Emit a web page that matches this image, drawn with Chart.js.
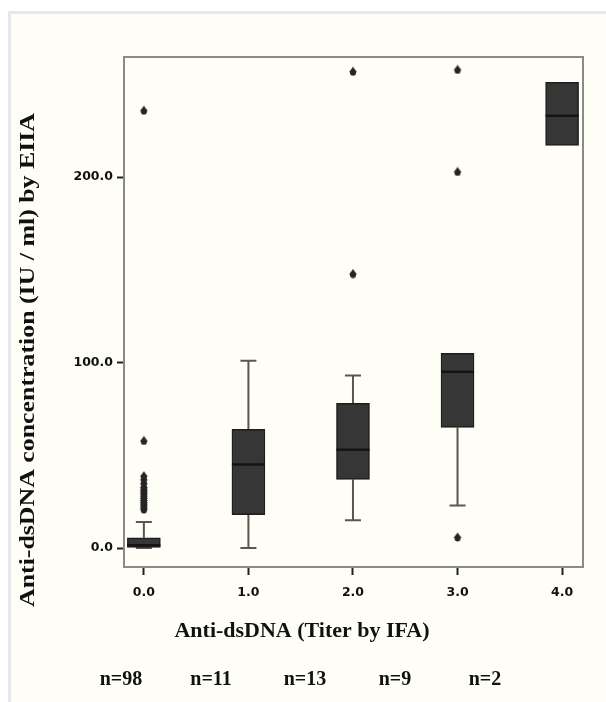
<!DOCTYPE html>
<html>
<head>
<meta charset="utf-8">
<script src="https://cdn.jsdelivr.net/npm/chart.js@4.4.1/dist/chart.umd.min.js"></script>
<style>
  body { margin: 0; background: #fff; }
  #wrap { width: 606px; height: 702px; position: relative; }
</style>
</head>
<body>
<div id="wrap"><canvas id="grafico"></canvas></div>
<script>
// categorias (titulo IFA) e valores
const categories = [0, 1, 2, 3, 4];
const yTickValues = [0, 100, 200];
const q1 = [0.3, 18, 37, 65, 217];
const median = [1.5, 45, 53, 95, 233];
const q3 = [5.5, 64, 78, 105, 251];
const whiskerLow = [0, 0, 15, 23, null];
const whiskerHigh = [14, 101, 93, null, null];
const outliers = [
    [21, 22, 23, 24, 25, 26, 27, 28, 29, 30, 31, 32, 33, 35, 37, 39, 58, 236],
    [],
    [148, 257],
    [6, 203, 258],
    []
];
const sampleSizes = ['n=98', 'n=11', 'n=13', 'n=9', 'n=2'];

const xTitle = 'Anti-dsDNA (Titer by IFA)';
const yTitle = 'Anti-dsDNA concentration (IU / ml) by EIIA';

// monta os dados para o chart
const boxData = categories.map((c, i) => ({ x: c, y: [q1[i], q3[i]] }));
const outlierData = [];
categories.forEach((c, i) => {
    outliers[i].forEach(v => outlierData.push({ x: c, y: v }));
});

// marcador dos outliers (forma de "espada" do SPSS)
function criarMarcador() {
    const cv = document.createElement('canvas');
    cv.width = 10; cv.height = 10;
    const g = cv.getContext('2d');
    g.fillStyle = '#262626';
    g.beginPath();
    g.moveTo(5, 0.5);
    g.lineTo(9, 6);
    g.lineTo(1, 6);
    g.closePath();
    g.fill();
    g.beginPath();
    g.arc(5, 6.5, 3, 0, Math.PI * 2);
    g.fill();
    return cv;
}
const marcador = criarMarcador();

// escreve um texto esticado ate a largura pedida
function textoLargura(ctx, txt, x, y, largura) {
    const w = ctx.measureText(txt).width;
    ctx.save();
    ctx.translate(x, y);
    ctx.scale(largura / w, 1);
    ctx.fillText(txt, 0, 0);
    ctx.restore();
}

const boxPlugin = {
    id: 'boxPlugin',
    beforeDraw(chart) {
        const ctx = chart.ctx;
        ctx.save();
        ctx.fillStyle = '#ffffff';
        ctx.fillRect(0, 0, chart.width, chart.height);
        ctx.fillStyle = '#e8e8ec';
        ctx.fillRect(8, 11, chart.width - 8, 3);
        ctx.fillRect(8, 11, 3, chart.height - 11);
        ctx.fillStyle = '#fefdf6';
        ctx.fillRect(11, 14, chart.width - 11, chart.height - 14);
        ctx.restore();
    },
    beforeDatasetsDraw(chart) {
        const ctx = chart.ctx;
        const xs = chart.scales.x, ys = chart.scales.y;
        const capHalf = 8;
        ctx.save();
        ctx.strokeStyle = '#5b5555';
        ctx.lineWidth = 2;
        categories.forEach((c, i) => {
            const px = xs.getPixelForValue(c);
            if (whiskerLow[i] !== null) {
                const a = ys.getPixelForValue(q1[i]);
                const b = ys.getPixelForValue(whiskerLow[i]);
                ctx.beginPath();
                ctx.moveTo(px, a); ctx.lineTo(px, b);
                ctx.moveTo(px - capHalf, b); ctx.lineTo(px + capHalf, b);
                ctx.stroke();
            }
            if (whiskerHigh[i] !== null) {
                const a = ys.getPixelForValue(q3[i]);
                const b = ys.getPixelForValue(whiskerHigh[i]);
                ctx.beginPath();
                ctx.moveTo(px, a); ctx.lineTo(px, b);
                ctx.moveTo(px - capHalf, b); ctx.lineTo(px + capHalf, b);
                ctx.stroke();
            }
        });
        ctx.restore();
    },
    afterDatasetsDraw(chart) {
        const ctx = chart.ctx;
        const ys = chart.scales.y;
        const area = chart.chartArea;
        const meta = chart.getDatasetMeta(0);
        ctx.save();
        // medianas
        ctx.strokeStyle = '#141414';
        ctx.lineWidth = 2.5;
        meta.data.forEach((bar, i) => {
            const half = bar.width / 2;
            const py = ys.getPixelForValue(median[i]);
            ctx.beginPath();
            ctx.moveTo(bar.x - half, py);
            ctx.lineTo(bar.x + half, py);
            ctx.stroke();
        });
        // moldura
        ctx.strokeStyle = '#8a8a8a';
        ctx.lineWidth = 2;
        ctx.strokeRect(area.left, area.top, area.right - area.left, area.bottom - area.top);

        // titulos
        ctx.fillStyle = '#111';
        ctx.textAlign = 'center';
        ctx.textBaseline = 'middle';
        ctx.font = 'bold 21px "Liberation Serif", "Times New Roman", serif';
        textoLargura(ctx, xTitle, 302, 632, 255);

        ctx.font = 'bold 20px "Liberation Serif", "Times New Roman", serif';
        const nCentros = [121, 211, 305, 395, 485];
        sampleSizes.forEach((s, i) => ctx.fillText(s, nCentros[i], 680));

        ctx.translate(29, 360);
        ctx.rotate(-Math.PI / 2);
        ctx.font = 'bold 21px "Liberation Serif", "Times New Roman", serif';
        textoLargura(ctx, yTitle, 0, 0, 494);
        ctx.restore();
    }
};

new Chart(document.getElementById('grafico').getContext('2d'), {
    type: 'bar',
    data: {
        datasets: [
            {
                type: 'bar',
                label: 'Caixa',
                data: boxData,
                backgroundColor: '#363636',
                borderColor: '#1e1e1e',
                borderWidth: 1.5,
                borderSkipped: false,
                barThickness: 33
            },
            {
                type: 'scatter',
                label: 'Outliers',
                data: outlierData,
                pointStyle: marcador,
                pointRadius: 5
            }
        ]
    },
    options: {
        responsive: true,
        maintainAspectRatio: false,
        animation: false,
        layout: { padding: { top: 57, right: 23, left: 0, bottom: 0 } },
        plugins: {
            legend: { display: false },
            tooltip: { enabled: false },
            title: { display: false }
        },
        scales: {
            x: {
                type: 'linear',
                offset: false,
                min: -0.19,
                max: 4.2,
                afterBuildTicks: (scale) => { scale.ticks = categories.map(v => ({ value: v })); },
                afterFit: (scale) => { scale.height = 135; },
                grid: { display: true, offset: false, drawOnChartArea: false, drawTicks: true, tickLength: 8, tickWidth: 2, tickColor: '#222' },
                border: { display: false },
                ticks: {
                    padding: 10,
                    color: '#111',
                    font: { family: 'DejaVu Sans', size: 12.5, weight: 'bold' },
                    callback: (v) => Number(v).toFixed(1)
                }
            },
            y: {
                type: 'linear',
                min: -10.2,
                max: 264.7,
                afterBuildTicks: (scale) => { scale.ticks = yTickValues.map(v => ({ value: v })); },
                afterFit: (scale) => { scale.width = 124; },
                grid: { display: true, drawOnChartArea: false, drawTicks: true, tickLength: 7, tickWidth: 2, tickColor: '#222' },
                border: { display: false },
                ticks: {
                    padding: 4,
                    color: '#111',
                    font: { family: 'DejaVu Sans', size: 12.5, weight: 'bold' },
                    callback: (v) => Number(v).toFixed(1)
                }
            }
        }
    },
    plugins: [boxPlugin]
});
</script>
</body>
</html>
